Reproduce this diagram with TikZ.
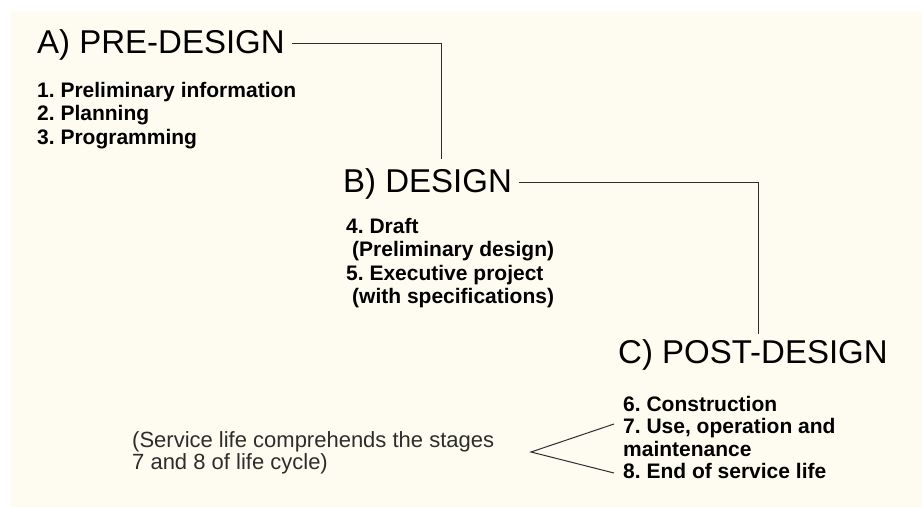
\documentclass[tikz,border=0pt]{standalone}
\usepackage{fontspec}
\setmainfont{Liberation Sans}
\definecolor{paper}{RGB}{254,252,240}
\definecolor{ink}{RGB}{45,45,45}
\frenchspacing
\begin{document}
\begin{tikzpicture}[x=1pt,y=-1pt,
    phase/.style={font=\fontsize{33}{36}\selectfont, inner sep=0pt,
      text height=23.5pt, text depth=3.5pt, anchor=base west},
    stages/.style={font=\fontsize{21}{23.3}\selectfont\bfseries,
      inner sep=0pt, align=left, anchor=north west},
    remark/.style={font=\fontsize{22}{22}\selectfont, text=ink,
      inner sep=0pt, align=left, anchor=north west},
    link/.style={draw=ink, line width=1pt}]
  \useasboundingbox (0,0) rectangle (922,507);
  \fill[paper] (11,12) rectangle (922,507);
  \draw
    (37,53) node[phase] (A){A) PRE-DESIGN}
    (343,192) node[phase] (B){B) DESIGN}
    (618,363) node[phase] (C){C) POST-DESIGN};
  \node[stages] (Astages) at (37,82)
    {1. Preliminary information\\2. Planning\\3. Programming};
  \node[stages] (Bstages) at (346,218)
    {4. Draft\\\hspace*{6pt}(Preliminary design)\\5. Executive project\\\hspace*{6pt}(with specifications)};
  \node[stages, font=\fontsize{21}{22.5}\selectfont\bfseries] (Cstages) at (623,396)
    {6. Construction\\7. Use, operation and\\maintenance\\8. End of service life};
  \node[remark] (note) at (132,431)
    {(Service life comprehends the stages\\7 and 8 of life cycle)};
  \coordinate (apex) at (531,452);
  \coordinate (use) at (614,424);
  \coordinate (end) at (614,473);
  \begin{scope}[link]
    \draw ([xshift=7pt]A.east) -| ([xshift=14pt,yshift=9pt]B.north);
    \draw ([xshift=7pt]B.east) -| ([xshift=6pt,yshift=5pt]C.north);
    \draw (use) -- (apex) -- (end);
  \end{scope}
\end{tikzpicture}
\end{document}
